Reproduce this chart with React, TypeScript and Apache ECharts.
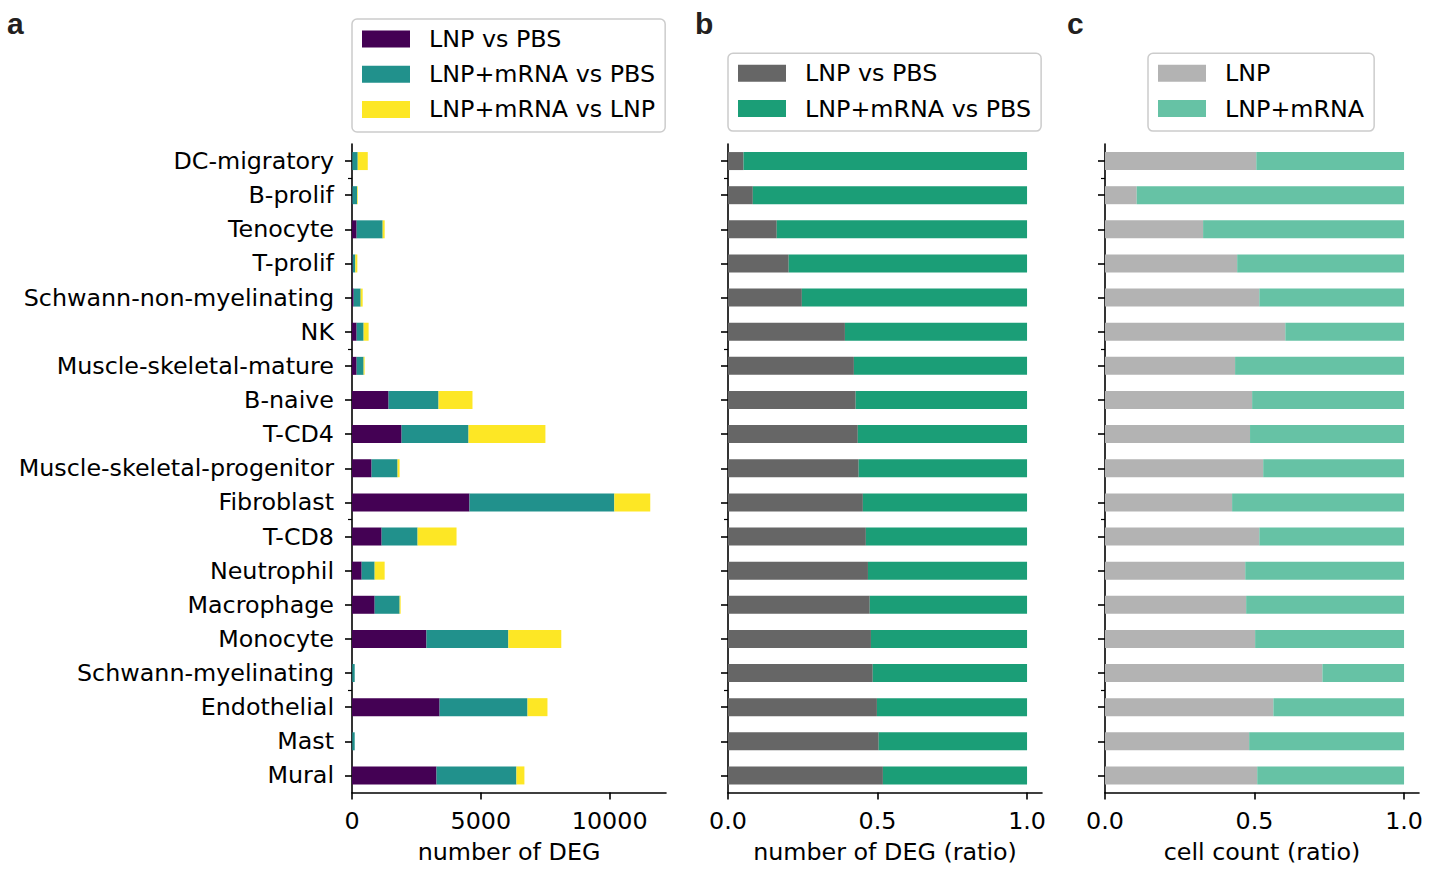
import React, { useEffect, useRef } from 'react';
import * as echarts from 'echarts';

const categories = [
  'DC-migratory', 'B-prolif', 'Tenocyte', 'T-prolif', 'Schwann-non-myelinating', 'NK',
  'Muscle-skeletal-mature', 'B-naive', 'T-CD4', 'Muscle-skeletal-progenitor', 'Fibroblast',
  'T-CD8', 'Neutrophil', 'Macrophage', 'Monocyte', 'Schwann-myelinating', 'Endothelial', 'Mast', 'Mural',
];

// panel a: number of DEG
const degLnpVsPbs = [12, 16, 180, 26, 65, 180, 180, 1420, 1925, 760, 4560, 1150, 375, 880, 2890, 10, 3400, 10, 3280];
const degLnpMrnaVsPbs = [210, 181, 1010, 103, 271, 271, 271, 1938, 2597, 1008, 5620, 1395, 504, 969, 3178, 95, 3411, 95, 3101];
const degLnpMrnaVsLnp = [390, 26, 78, 78, 78, 194, 39, 1318, 2984, 78, 1395, 1512, 388, 39, 2054, 0, 775, 0, 310];

// panel b: number of DEG (ratio)
const ratioLnpVsPbs = [0.052, 0.083, 0.163, 0.203, 0.247, 0.391, 0.421, 0.427, 0.434, 0.437, 0.451, 0.461, 0.468, 0.474, 0.478, 0.484, 0.498, 0.504, 0.518];
const ratioLnpMrnaVsPbs = [0.948, 0.917, 0.837, 0.797, 0.753, 0.609, 0.579, 0.573, 0.566, 0.563, 0.549, 0.539, 0.532, 0.526, 0.522, 0.516, 0.502, 0.496, 0.482];

// panel c: cell count (ratio)
const cellLnp = [0.506, 0.106, 0.328, 0.442, 0.516, 0.603, 0.435, 0.492, 0.485, 0.529, 0.425, 0.516, 0.469, 0.472, 0.502, 0.727, 0.563, 0.482, 0.509];
const cellLnpMrna = [0.494, 0.894, 0.672, 0.558, 0.484, 0.397, 0.565, 0.508, 0.515, 0.471, 0.575, 0.484, 0.531, 0.528, 0.498, 0.273, 0.437, 0.518, 0.491];

const degTicks = [0, 5000, 10000];
const ratioTicks = [0, 0.5, 1.0];
const minorTickPositions = [0.5, 5.5, 10.5, 15.5];

const FONT = 'DejaVu Sans';
const FS = 23.8;
const lineStyle = { color: '#000', width: 1.6 };

const C_PURPLE = '#440154';
const C_TEAL = '#21918c';
const C_YELLOW = '#fde725';
const C_DGRAY = '#666666';
const C_DGREEN = '#1b9e77';
const C_LGRAY = '#b3b3b3';
const C_LGREEN = '#66c2a5';

const gridLefts = [352, 728, 1105];

function buildOption() {
  const grid = gridLefts.map((left) => ({ left, top: 144, width: 314, height: 648.5 }));

  const mkX = (i: number, max: number, ticks: number[], name: string, fmt: (v: number) => string) => ({
    type: 'value',
    gridIndex: i,
    position: 'bottom',
    min: 0,
    max,
    axisLine: { show: true, onZero: false, lineStyle },
    axisTick: { show: true, length: 7, lineStyle, customValues: ticks },
    axisLabel: { customValues: ticks, formatter: fmt, fontSize: FS, fontFamily: FONT, color: '#000', margin: 16 },
    splitLine: { show: false },
    name,
    nameLocation: 'middle',
    nameGap: 47.5,
    nameTextStyle: { fontSize: FS, fontFamily: FONT, color: '#000' },
  });

  const xAxis = [
    mkX(0, 12186, degTicks, 'number of DEG', (v: number) => String(v)),
    mkX(1, 1.05, ratioTicks, 'number of DEG (ratio)', (v: number) => v.toFixed(1)),
    mkX(2, 1.05, ratioTicks, 'cell count (ratio)', (v: number) => v.toFixed(1)),
  ];

  const catAxes = [0, 1, 2].map((i) => ({
    type: 'category',
    gridIndex: i,
    data: categories,
    inverse: true,
    axisLine: { show: true, onZero: false, lineStyle },
    axisTick: { show: true, alignWithLabel: true, length: 7, lineStyle },
    axisLabel: { show: i === 0, fontSize: FS, fontFamily: FONT, color: '#000', margin: 18 },
    splitLine: { show: false },
  }));
  const minorAxes = [0, 1, 2].map((i) => ({
    type: 'value',
    gridIndex: i,
    min: -0.5,
    max: categories.length - 0.5,
    inverse: true,
    position: 'left',
    axisLine: { show: false, onZero: false },
    axisLabel: { show: false },
    splitLine: { show: false },
    axisTick: { show: true, length: 4, lineStyle: { color: '#000', width: 1.2 }, customValues: minorTickPositions },
  }));

  const bar = (name: string, data: number[], color: string, xi: number, stack: string) => ({
    type: 'bar',
    name,
    data,
    stack,
    xAxisIndex: xi,
    yAxisIndex: xi,
    barWidth: 18,
    itemStyle: { color },
    emphasis: { disabled: true },
  });

  const series = [
    bar('LNP vs PBS', degLnpVsPbs, C_PURPLE, 0, 'a'),
    bar('LNP+mRNA vs PBS', degLnpMrnaVsPbs, C_TEAL, 0, 'a'),
    bar('LNP+mRNA vs LNP', degLnpMrnaVsLnp, C_YELLOW, 0, 'a'),
    bar('LNP vs PBS', ratioLnpVsPbs, C_DGRAY, 1, 'b'),
    bar('LNP+mRNA vs PBS', ratioLnpMrnaVsPbs, C_DGREEN, 1, 'b'),
    bar('LNP', cellLnp, C_LGRAY, 2, 'c'),
    bar('LNP+mRNA', cellLnpMrna, C_LGREEN, 2, 'c'),
  ];

  const legendBase = {
    orient: 'vertical',
    itemWidth: 48,
    itemHeight: 17,
    itemGap: 11.2,
    padding: [8, 10, 10.6, 10],
    borderColor: '#cccccc',
    borderWidth: 1.5,
    borderRadius: 5,
    icon: 'rect',
    selectedMode: false,
    textStyle: { fontSize: FS, fontFamily: FONT, color: '#000', padding: [0, 0, 0, 14] },
  };
  const legend = [
    {
      ...legendBase,
      left: 352,
      top: 19,
      data: [
        { name: 'LNP vs PBS', itemStyle: { color: C_PURPLE } },
        { name: 'LNP+mRNA vs PBS', itemStyle: { color: C_TEAL } },
        { name: 'LNP+mRNA vs LNP', itemStyle: { color: C_YELLOW } },
      ],
    },
    {
      ...legendBase,
      left: 728,
      top: 53.3,
      data: [
        { name: 'LNP vs PBS', itemStyle: { color: C_DGRAY } },
        { name: 'LNP+mRNA vs PBS', itemStyle: { color: C_DGREEN } },
      ],
    },
    {
      ...legendBase,
      left: 1148,
      top: 53.3,
      data: [
        { name: 'LNP', itemStyle: { color: C_LGRAY } },
        { name: 'LNP+mRNA', itemStyle: { color: C_LGREEN } },
      ],
    },
  ];

  const letter = (text: string, x: number) => ({
    type: 'text',
    x,
    y: 23,
    style: {
      text,
      font: 'bold 30px "Liberation Sans", Arial, sans-serif',
      fill: '#231f20',
      verticalAlign: 'middle',
      align: 'left',
    },
  });

  return {
    animation: false,
    backgroundColor: '#ffffff',
    grid,
    xAxis,
    yAxis: [...catAxes, ...minorAxes],
    series,
    legend,
    graphic: [letter('a', 7), letter('b', 695), letter('c', 1067)],
  };
}

export default function App() {
  const ref = useRef<HTMLDivElement>(null);
  useEffect(() => {
    document.body.style.margin = '0';
    const chart = echarts.init(ref.current!, null, { renderer: 'svg' });
    chart.setOption(buildOption() as any);
    return () => chart.dispose();
  }, []);
  return <div ref={ref} style={{ width: 1441, height: 870 }} />;
}
